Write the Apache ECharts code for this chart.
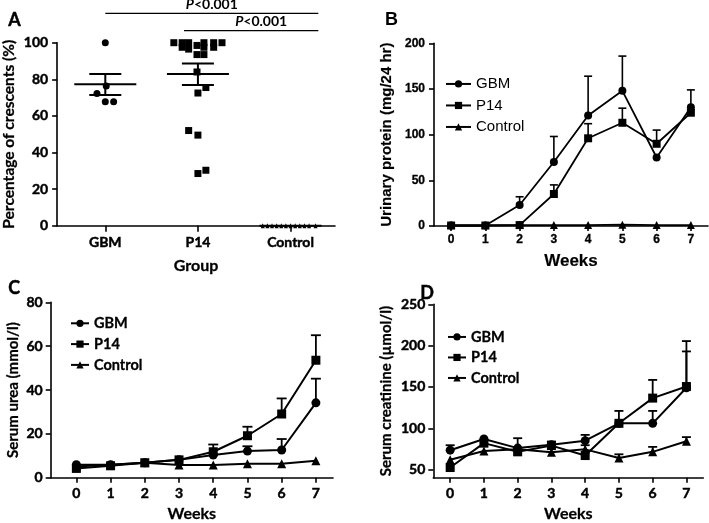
<!DOCTYPE html>
<html>
<head>
<meta charset="utf-8">
<script src="https://cdn.jsdelivr.net/npm/echarts@6/dist/echarts.min.js"></script>
<style>html,body{margin:0;padding:0;background:#fff}#c{width:709px;height:523px}</style>
</head>
<body>
<div id="c"></div>
<script>
// ---------- DATA ----------
const groups = ['GBM', 'P14', 'Control'];
// Panel A: individual values and jitter (in category units)
const aGbmValues = [100, 72.3, 76.3, 67.8, 67.8];
const aGbmJitter = [0, -0.09, 0.01, 0, 0.09];
const aP14Values = [100, 100, 100, 100, 100, 100, 97.5, 97.5, 97.5, 98.5, 96.5, 93.5, 93.5, 84, 75.5, 72.5, 52, 49.5, 30.3, 28.5];
const aP14Jitter = [-0.26, -0.17, -0.10, 0.065, 0.17, 0.26, -0.17, 0.065, 0.17, -0.01, -0.10, -0.01, 0.065, -0.01, 0.086, 0, -0.10, 0, 0.086, 0];
const aCtrlValues = [0, 0, 0, 0, 0, 0, 0, 0, 0, 0, 0, 0];
const aCtrlJitter = [-0.3, -0.25, -0.2, -0.15, -0.1, -0.05, 0, 0.05, 0.1, 0.15, 0.2, 0.27];
const aMean = [77.3, 82.9, 0];
const aLower = [71.4, 76.9, 0];
const aUpper = [82.9, 88.7, 0];
const sigLabels = ['P<0.001', 'P<0.001'];

const weeks = [0, 1, 2, 3, 4, 5, 6, 7];
// Panel B: urinary protein (mg/24 hr)
const bGbm = [0.5, 0.5, 23, 70, 121, 148, 75, 130];
const bGbmSem = [0, 0, 9, 28, 43, 38, 0, 19];
const bP14 = [0.5, 0.5, 1, 35, 96, 113, 90, 124];
const bP14Sem = [0, 0, 0, 10, 16, 16, 15, 0];
const bCtrl = [1, 1, 1, 1, 1, 1.5, 1, 1];
const bCtrlSem = [0, 0, 0, 0, 0, 0, 0, 0];
// Panel C: serum urea (mmol/l)
const cGbm = [6.0, 6.0, 6.9, 8.2, 10.4, 12.2, 12.7, 34.2];
const cGbmSem = [0, 0, 0, 0, 0, 2.2, 5.0, 11.0];
const cP14 = [4.3, 5.5, 6.9, 8.2, 11.9, 19.2, 29.1, 53.6];
const cP14Sem = [0, 0, 0, 0, 3.3, 4.1, 7.1, 11.4];
const cCtrl = [5.2, 6.0, 6.9, 5.9, 5.9, 6.4, 6.4, 7.8];
const cCtrlSem = [0, 0, 0, 0, 0, 0, 0, 0];
// Panel D: serum creatinine (µmol/l)
const dGbm = [73.5, 87, 76, 80, 85, 106, 106, 149];
const dGbmSem = [6, 0, 12, 4, 7, 15, 15, 44];
const dP14 = [52.5, 82, 71.5, 79, 67, 106, 136.5, 150.5];
const dP14Sem = [0, 0, 0, 0, 0, 0, 22, 55];
const dCtrl = [62, 72.5, 74.5, 71, 74.5, 64, 71.5, 84.3];
const dCtrlSem = [0, 0, 0, 0, 5, 4.5, 6, 5];
const dYTicks = [50, 100, 150, 200, 250];

// ---------- CHART ----------
const chart = echarts.init(document.getElementById('c'), null, {renderer: 'canvas'});
const CAL = 'Lato';
const ARIAL = 'Liberation Sans';
const BLACK = '#000';
const groupPos = [0.5, 1.5, 2.5];

function makeAxis(o) {
  const label = {
    show: true, color: BLACK, fontFamily: o.font, fontWeight: 'bold', fontSize: o.size,
    margin: o.margin, textBorderColor: BLACK, textBorderWidth: o.border
  };
  if (o.formatter) label.formatter = o.formatter;
  if (o.custom) label.customValues = o.custom;
  const tick = {show: true, length: o.tickLen || 5, lineStyle: {color: BLACK, width: 1.6}};
  if (o.custom) tick.customValues = o.custom;
  const ax = {
    gridIndex: o.grid, type: 'value', min: o.min, max: o.max,
    axisLine: {show: true, onZero: false, lineStyle: {color: BLACK, width: 1.6}},
    axisTick: tick,
    splitLine: {show: false},
    axisLabel: label,
    name: o.name, nameLocation: 'middle', nameGap: o.nameGap,
    nameTextStyle: {color: BLACK, fontFamily: o.font, fontWeight: 'bold', fontSize: o.nameSize,
      textBorderColor: BLACK, textBorderWidth: o.border * 0.6}
  };
  if (o.interval) ax.interval = o.interval;
  return ax;
}

const grids = [
  {left: 57, top: 42.7, width: 278, height: 183},
  {left: 434, top: 43.3, width: 274, height: 182.7},
  {left: 50.7, top: 302.3, width: 282.3, height: 180.2},
  {left: 433.3, top: 304.3, width: 270, height: 178.4}
];

const xAxes = [
  makeAxis({grid: 0, font: CAL, size: 14, border: 0.45, margin: 10, min: -0.02, max: 2.98, custom: groupPos, tickLen: 6,
    formatter: v => groups[Math.round(v - 0.5)], name: 'Group', nameGap: 32, nameSize: 16}),
  makeAxis({grid: 1, font: ARIAL, size: 12, border: 0.3, margin: 8, min: -0.5, max: 7.5, custom: weeks,
    name: 'Weeks', nameGap: 27, nameSize: 17}),
  makeAxis({grid: 2, font: CAL, size: 14, border: 0.45, margin: 9, min: -0.75, max: 7.5, custom: weeks,
    name: 'Weeks', nameGap: 28, nameSize: 16}),
  makeAxis({grid: 3, font: CAL, size: 14, border: 0.45, margin: 9, min: -0.5, max: 7.5, custom: weeks,
    name: 'Weeks', nameGap: 28, nameSize: 16})
];
const yAxes = [
  makeAxis({grid: 0, font: CAL, size: 14, border: 0.45, margin: 9, min: 0, max: 100, interval: 20,
    name: 'Percentage of crescents (%)', nameGap: 40, nameSize: 15.5}),
  makeAxis({grid: 1, font: ARIAL, size: 12, border: 0.3, margin: 9, min: 0, max: 200, interval: 50,
    name: 'Urinary protein (mg/24 hr)', nameGap: 40, nameSize: 15}),
  makeAxis({grid: 2, font: CAL, size: 14, border: 0.45, margin: 8, min: 0, max: 80, interval: 20,
    name: 'Serum urea (mmol/l)', nameGap: 30, nameSize: 15}),
  makeAxis({grid: 3, font: CAL, size: 14, border: 0.45, margin: 8, min: 40, max: 250, custom: dYTicks,
    name: 'Serum creatinine (µmol/l)', nameGap: 40, nameSize: 15})
];

const series = [];

// --- Panel A ---
function jittered(values, jitter, center) {
  return values.map((v, i) => [center + jitter[i], v]);
}
const solid = {color: BLACK, opacity: 1};
series.push({
  name: 'A-GBM', type: 'scatter', xAxisIndex: 0, yAxisIndex: 0,
  symbol: 'circle', symbolSize: 7, itemStyle: solid,
  data: jittered(aGbmValues, aGbmJitter, groupPos[0]), z: 3
});
series.push({
  name: 'A-P14', type: 'scatter', xAxisIndex: 0, yAxisIndex: 0,
  symbol: 'rect', symbolSize: 7, itemStyle: solid,
  data: jittered(aP14Values, aP14Jitter, groupPos[1]), z: 3
});
series.push({
  name: 'A-Control', type: 'scatter', xAxisIndex: 0, yAxisIndex: 0,
  symbol: 'triangle', symbolSize: [4, 5], itemStyle: solid,
  data: jittered(aCtrlValues, aCtrlJitter, groupPos[2]), z: 3, clip: false
});
series.push({
  name: 'A-meanSEM', type: 'custom', xAxisIndex: 0, yAxisIndex: 0, clip: false, z: 4,
  data: groupPos.map((x, i) => [x, aMean[i], aLower[i], aUpper[i]]),
  renderItem: function (params, api) {
    const x = api.value(0);
    const pm = api.coord([x, api.value(1)]);
    const pl = api.coord([x, api.value(2)]);
    const pu = api.coord([x, api.value(3)]);
    const st = {stroke: BLACK, lineWidth: 2};
    const ch = [
      {type: 'line', shape: {x1: pm[0] - 31, y1: pm[1], x2: pm[0] + 31, y2: pm[1]}, style: st}
    ];
    if (api.value(3) > api.value(2)) {
      ch.push({type: 'line', shape: {x1: pl[0], y1: pl[1], x2: pu[0], y2: pu[1]}, style: st});
      ch.push({type: 'line', shape: {x1: pl[0] - 16, y1: pl[1], x2: pl[0] + 16, y2: pl[1]}, style: st});
      ch.push({type: 'line', shape: {x1: pu[0] - 16, y1: pu[1], x2: pu[0] + 16, y2: pu[1]}, style: st});
    }
    return {type: 'group', children: ch};
  }
});

// --- Panels B, C, D ---
function addPanel(idx, sets, opts) {
  sets.forEach(s => {
    series.push({
      name: s.name, type: 'line', xAxisIndex: idx, yAxisIndex: idx,
      data: weeks.map((w, i) => [w, s.values[i]]),
      symbol: s.symbol, symbolSize: opts.symbolSize, showSymbol: true,
      lineStyle: {color: BLACK, width: opts.lineWidth},
      itemStyle: solid, z: 3
    });
    series.push({
      name: s.name + '-err' + idx, type: 'custom', xAxisIndex: idx, yAxisIndex: idx, z: 2,
      data: weeks.map((w, i) => [w, s.values[i], s.sem[i]]),
      renderItem: function (params, api) {
        const x = api.value(0), y = api.value(1), e = api.value(2);
        if (!e) return null;
        const p0 = api.coord([x, y]);
        const p1 = api.coord([x, y + e]);
        const st = {stroke: BLACK, lineWidth: opts.errWidth};
        return {type: 'group', children: [
          {type: 'line', shape: {x1: p0[0], y1: p0[1], x2: p1[0], y2: p1[1]}, style: st},
          {type: 'line', shape: {x1: p1[0] - opts.cap, y1: p1[1], x2: p1[0] + opts.cap, y2: p1[1]}, style: st}
        ]};
      }
    });
  });
}
addPanel(1, [
  {name: 'GBM', values: bGbm, sem: bGbmSem, symbol: 'circle'},
  {name: 'P14', values: bP14, sem: bP14Sem, symbol: 'rect'},
  {name: 'Control', values: bCtrl, sem: bCtrlSem, symbol: 'triangle'}
], {symbolSize: 8, lineWidth: 1.8, errWidth: 1.6, cap: 4});
addPanel(2, [
  {name: 'GBM', values: cGbm, sem: cGbmSem, symbol: 'circle'},
  {name: 'P14', values: cP14, sem: cP14Sem, symbol: 'rect'},
  {name: 'Control', values: cCtrl, sem: cCtrlSem, symbol: 'triangle'}
], {symbolSize: 9, lineWidth: 2, errWidth: 1.8, cap: 5});
addPanel(3, [
  {name: 'GBM', values: dGbm, sem: dGbmSem, symbol: 'circle'},
  {name: 'P14', values: dP14, sem: dP14Sem, symbol: 'rect'},
  {name: 'Control', values: dCtrl, sem: dCtrlSem, symbol: 'triangle'}
], {symbolSize: 9, lineWidth: 2, errWidth: 1.8, cap: 4.5});

function legendAt(left, top, lineW, font, weight, size, rowH, border) {
  return {
    orient: 'vertical', left: left, top: top, padding: 0,
    itemWidth: lineW, itemHeight: 9, itemGap: 0,
    selectedMode: false,
    data: ['GBM', 'P14', 'Control'],
    textStyle: {color: BLACK, fontFamily: font, fontWeight: weight, fontSize: size, lineHeight: rowH,
      textBorderColor: BLACK, textBorderWidth: border}
  };
}

chart.setOption({
  animation: false,
  backgroundColor: '#fff',
  grid: grids,
  xAxis: xAxes,
  yAxis: yAxes,
  legend: [
    legendAt(445, 73.2, 25, ARIAL, 'normal', 15, 21.5, 0),
    legendAt(70, 312.9, 18, CAL, 'bold', 14.5, 20.8, 0.3),
    legendAt(447, 326.7, 18, CAL, 'bold', 14.5, 20.5, 0.3)
  ],
  series: series
});

// Panel letters and significance annotations (positions derived from the panel-A axes)
const sigBars = [
  {from: groupPos[0], to: 2.8, level: 116},
  {from: 1.35, to: 2.8, level: 106.6}
];
const graphics = [
  {type: 'text', left: 8, top: 11, style: {text: 'A', font: 'bold 18px Lato', fill: BLACK, stroke: BLACK, lineWidth: 0.4}},
  {type: 'text', left: 385, top: 11, style: {text: 'B', font: 'bold 18px "Liberation Sans"', fill: BLACK}},
  {type: 'text', left: 8, top: 279, style: {text: 'C', font: 'bold 18px Lato', fill: BLACK, stroke: BLACK, lineWidth: 0.4}},
  {type: 'text', left: 420, top: 284, style: {text: 'D', font: 'bold 18px Lato', fill: BLACK, stroke: BLACK, lineWidth: 0.4}}
];
sigBars.forEach((b, i) => {
  const p1 = chart.convertToPixel({xAxisIndex: 0, yAxisIndex: 0}, [b.from, b.level]);
  const p2 = chart.convertToPixel({xAxisIndex: 0, yAxisIndex: 0}, [b.to, b.level]);
  graphics.push({type: 'line', shape: {x1: p1[0], y1: p1[1], x2: p2[0], y2: p2[1]}, style: {stroke: BLACK, lineWidth: 1.2}});
  const cx = i === 0 ? (p1[0] + p2[0]) / 2 : (p1[0] + p2[0]) / 2 + 10;
  graphics.push({
    type: 'text', x: cx, y: p1[1] - 2,
    style: {
      text: '{i|P}{n|' + sigLabels[i].slice(1) + '}',
      align: 'center', verticalAlign: 'bottom',
      rich: {
        i: {fontFamily: CAL, fontWeight: 'bold', fontStyle: 'italic', fontSize: 14, fill: BLACK},
        n: {fontFamily: CAL, fontWeight: 'bold', fontSize: 14, fill: BLACK}
      }
    }
  });
});
chart.setOption({graphic: graphics});
</script>
</body>
</html>
